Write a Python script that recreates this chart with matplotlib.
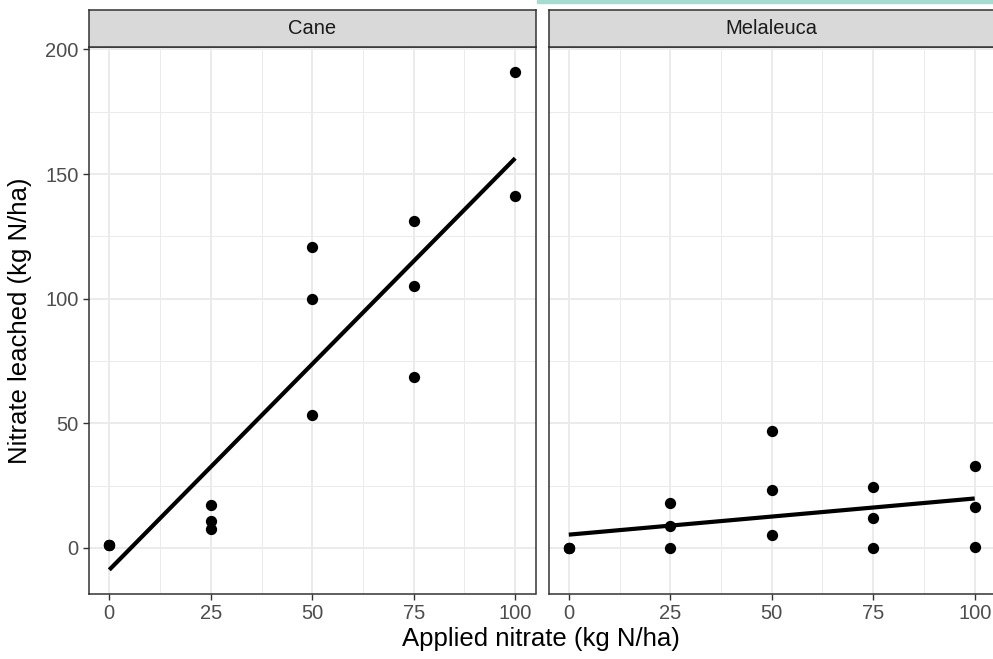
import numpy as np
import matplotlib
matplotlib.use("Agg")
import matplotlib.pyplot as plt
from matplotlib.patches import Rectangle

plt.rcParams['font.family'] = ['Liberation Sans', 'DejaVu Sans']

# applied nitrate (kg N/ha) and nitrate leached (kg N/ha)
cane_x = [0, 0, 0, 25, 25, 25, 50, 50, 50, 75, 75, 75, 100, 100]
cane_y = [1.2, 1.2, 1.3, 17.3, 10.9, 7.6, 120.7, 99.8, 53.5, 131.2, 105.0, 68.4, 191.1, 141.2]

mel_x = [0, 0, 0, 25, 25, 25, 50, 50, 50, 75, 75, 75, 100, 100, 100]
mel_y = [0.0, 0.0, 0.0, 18.0, 8.9, 0.0, 47.1, 23.4, 5.1, 24.3, 12.1, 0.0, 32.8, 16.5, 0.4]

panels = ["Cane", "Melaleuca"]
x_ticks = [0, 25, 50, 75, 100]
y_ticks = [0, 50, 100, 150, 200]

W, H = 993, 659
fig = plt.figure(figsize=(W / 100, H / 100), dpi=100)


def fx(px):
    return px / W


def fy(py):
    return 1 - py / H


panel_left = [89, 548.5]
panel_w = 446.5
top, bottom, strip_top = 47, 594, 10

dark = "#333333"
grid = "#EBEBEB"

for i, (name, xs, ys) in enumerate(zip(panels, [cane_x, mel_x], [cane_y, mel_y])):
    ax = fig.add_axes([fx(panel_left[i]), fy(bottom), panel_w / W, (bottom - top) / H])
    ax.set_xlim(-5, 105)
    ax.set_ylim(-18.5, 201)
    ax.set_xticks(x_ticks)
    ax.set_yticks(y_ticks)
    ax.set_xticks([12.5, 37.5, 62.5, 87.5], minor=True)
    ax.set_yticks([25, 75, 125, 175], minor=True)
    ax.grid(True, which="major", color=grid, lw=1.4, zorder=0)
    ax.grid(True, which="minor", color=grid, lw=0.7, zorder=0)
    ax.set_axisbelow(True)
    ax.tick_params(which="minor", length=0)
    ax.tick_params(which="major", length=4.5, width=1.0, color=dark,
                   labelcolor="#4D4D4D", labelsize=14.5, pad=3)
    if i == 1:
        ax.set_yticklabels([])
        ax.tick_params(axis="y", length=0)
    for s in ax.spines.values():
        s.set_color(dark)
        s.set_linewidth(1.1)

    ax.scatter(xs, ys, s=66, color="black", zorder=3, linewidths=0)
    slope, icpt = np.polyfit(xs, ys, 1)
    lx = np.array([min(xs), max(xs)])
    ax.plot(lx, icpt + slope * lx, color="black", lw=3.0, zorder=4,
            solid_capstyle="butt")

    sax = fig.add_axes([fx(panel_left[i]), fy(top), panel_w / W, (top - strip_top) / H])
    sax.set_facecolor("#D9D9D9")
    sax.set_xticks([])
    sax.set_yticks([])
    for s in sax.spines.values():
        s.set_color(dark)
        s.set_linewidth(1.1)
    sax.text(0.5, 0.5, name, ha="center", va="center", fontsize=14.5,
             color="#1A1A1A", transform=sax.transAxes)

fig.text(fx(20), fy((top + bottom) / 2), "Nitrate leached (kg N/ha)", rotation=90,
         ha="center", va="center", fontsize=18.5, color="black")
fig.text(fx(541), fy(639), "Applied nitrate (kg N/ha)", ha="center", va="center",
         fontsize=18.5, color="black")

# thin teal band at the top right edge of the screenshot
fig.patches.append(Rectangle((fx(537), fy(3)), 1 - fx(537), 3 / H,
                             transform=fig.transFigure, color="#A6DCCF", zorder=5))

fig.savefig("out.png", dpi=100)
